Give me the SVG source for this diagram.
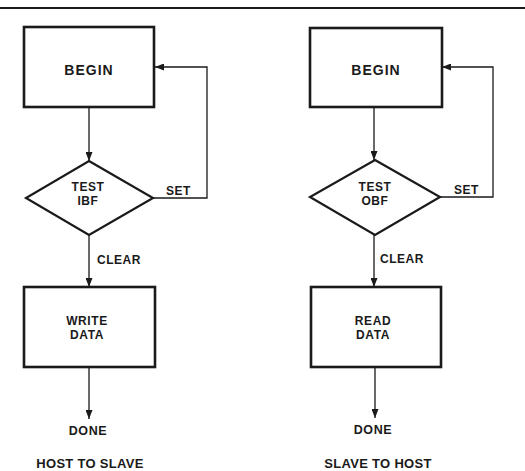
<svg xmlns="http://www.w3.org/2000/svg" width="525" height="471" viewBox="0 0 525 471">
<defs>
<marker id="ah" markerUnits="userSpaceOnUse" markerWidth="9" markerHeight="7" viewBox="0 0 9 7" refX="9" refY="3.5" orient="auto">
<path d="M0,0 L9,3.5 L0,7 z" fill="#1a1a1a"/>
</marker>
<style>
.box{fill:#fff;stroke:#1a1a1a;stroke-width:2.6}
.dia{fill:#fff;stroke:#1a1a1a;stroke-width:2.2}
.con{fill:none;stroke:#1a1a1a;stroke-width:1.3;marker-end:url(#ah)}
text{font-family:"Liberation Sans",Arial,sans-serif;font-weight:bold;fill:#1a1a1a}
.big{font-size:14px;letter-spacing:1px;text-anchor:middle}
.lbl{font-size:12px;letter-spacing:0.5px}
.mid{font-size:12px;letter-spacing:0.6px;text-anchor:middle}
.ttl{font-size:13px;letter-spacing:0.3px;text-anchor:middle}
</style>
</defs>
<rect width="525" height="471" fill="#fff"/>
<line x1="0" y1="8" x2="525" y2="8" stroke="#1a1a1a" stroke-width="2.2"/>
<g id="connectors">
<path class="con" d="M89,107 L89,161"/>
<path class="con" d="M153,198 L207,198 L207,67 L155,67"/>
<path class="con" d="M89,235 L89,287"/>
<path class="con" d="M89,367 L89,419"/>
<path class="con" d="M374,107 L374,160"/>
<path class="con" d="M440,197 L493,197 L493,67 L442,67"/>
<path class="con" d="M374,235 L374,287"/>
<path class="con" d="M375,367 L375,418"/>
</g>
<g id="begin1"><rect class="box" x="24" y="27" width="130" height="80"/><text class="big" x="89" y="75">BEGIN</text></g>
<g id="test1"><polygon class="dia" points="89,161 153,198 89,235 26,198"/><text class="mid" x="88" y="190.5">TEST</text><text class="mid" x="88" y="204.5">IBF</text></g>
<g id="write1"><rect class="box" x="24" y="287" width="131" height="80"/><text class="mid" x="87" y="325">WRITE</text><text class="mid" x="87" y="338.5">DATA</text></g>
<g id="done1"><text class="mid" x="88" y="435" style="font-size:12.5px">DONE</text></g>
<g id="title1"><text class="ttl" x="90" y="468">HOST TO SLAVE</text></g>
<g id="labels1"><text class="lbl" x="166" y="195">SET</text><text class="lbl" x="97" y="264">CLEAR</text></g>
<g id="begin2"><rect class="box" x="310" y="28" width="132" height="79"/><text class="big" x="376" y="75">BEGIN</text></g>
<g id="test2"><polygon class="dia" points="375,160 440,197 375,235 310,197"/><text class="mid" x="375" y="190.5">TEST</text><text class="mid" x="375" y="204.5">OBF</text></g>
<g id="read2"><rect class="box" x="311" y="287" width="130" height="80"/><text class="mid" x="373" y="325">READ</text><text class="mid" x="373" y="338.5">DATA</text></g>
<g id="done2"><text class="mid" x="373" y="434" style="font-size:12.5px">DONE</text></g>
<g id="title2"><text class="ttl" x="378" y="468">SLAVE TO HOST</text></g>
<g id="labels2"><text class="lbl" x="454" y="194">SET</text><text class="lbl" x="380" y="263">CLEAR</text></g>
</svg>
